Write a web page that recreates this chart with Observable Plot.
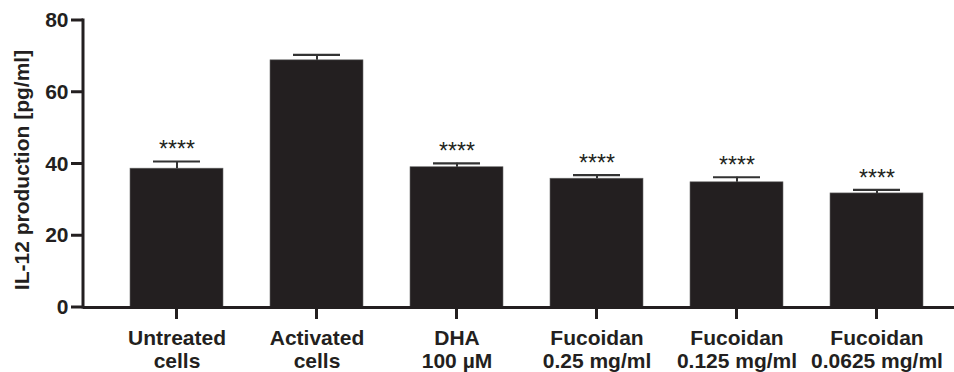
<!DOCTYPE html>
<html>
<head>
<meta charset="utf-8">
<script src="https://cdn.jsdelivr.net/npm/d3@7"></script>
<script src="https://cdn.jsdelivr.net/npm/@observablehq/plot@0.6"></script>
<style>
  html, body { margin: 0; padding: 0; background: #fff; }
  #chart svg { display: block; }
</style>
</head>
<body>
<div id="chart"></div>
<script>
const categories = ["Untreated\ncells", "Activated\ncells", "DHA\n100 µM", "Fucoidan\n0.25 mg/ml", "Fucoidan\n0.125 mg/ml", "Fucoidan\n0.0625 mg/ml"];
const means = [38.7, 68.9, 39.1, 35.9, 34.9, 31.8];
const errors = [2.0, 1.5, 1.1, 1.0, 1.4, 1.0];
const stars = ["****", "", "****", "****", "****", "****"];
const yTicks = [0, 20, 40, 60, 80];
const yLabel = "IL-12 production [pg/ml]";

const data = categories.map((c, i) => ({c, m: means[i], e: errors[i], s: stars[i]}));
const ink = "#231f20";
const font = "Liberation Sans, Arial, Helvetica, sans-serif";

const chart = Plot.plot({
  width: 954,
  height: 372,
  marginLeft: 83,
  marginRight: 0,
  marginTop: 20,
  marginBottom: 65,
  style: {fontFamily: font, color: ink, background: "#fff", overflow: "visible"},
  x: {domain: categories, range: [130, 923], paddingInner: 0.336, paddingOuter: 0, label: null},
  y: {domain: [0, 80], label: null},
  marks: [
    Plot.barY(data, {x: "c", y: "m", fill: ink, stroke: "#6b6b6b", strokeWidth: 0.6}),
    Plot.ruleX(data, {x: "c", y1: "m", y2: d => d.m + d.e, stroke: "#333", strokeWidth: 2}),
    Plot.tickY(data, {x: "c", y: d => d.m + d.e, stroke: "#333", strokeWidth: 2.2, insetLeft: 23, insetRight: 23}),
    Plot.text(data, {x: "c", y: d => d.m + d.e, text: "s", fontSize: 23, fill: ink, lineAnchor: "bottom", dy: -4}),
    Plot.ruleY([0], {stroke: ink, strokeWidth: 3}),
    Plot.axisY({ticks: yTicks, tickFormat: d => d, tickSize: 0, tickPadding: 15, fill: ink, fontSize: 21, fontWeight: "bold", label: null}),
    Plot.axisX({tickSize: 0, tickPadding: 21, fill: ink, fontSize: 21, fontWeight: "bold", lineHeight: 1.1, label: null}),
    Plot.text([yLabel], {text: d => d, frameAnchor: "left", rotate: -90, dx: -69, dy: 6, lineAnchor: "top", textAnchor: "middle", fontSize: 21, fontWeight: "bold", fill: ink})
  ]
});

const svg = d3.select(chart);
const ys = chart.scale("y");
const xs = chart.scale("x");
const xLeft = 83;
const y0 = ys.apply(0);

// left axis line
svg.append("line")
  .attr("x1", xLeft).attr("x2", xLeft)
  .attr("y1", ys.apply(80) - 1.5).attr("y2", y0 + 1.5)
  .attr("stroke", ink).attr("stroke-width", 3);

// y ticks
svg.append("g").attr("stroke", ink).attr("stroke-width", 3)
  .selectAll("line").data(yTicks).join("line")
  .attr("x1", xLeft - 12).attr("x2", xLeft)
  .attr("y1", d => ys.apply(d)).attr("y2", d => ys.apply(d));

// x ticks
svg.append("g").attr("stroke", ink).attr("stroke-width", 3)
  .selectAll("line").data(categories).join("line")
  .attr("x1", d => xs.apply(d) + xs.bandwidth / 2).attr("x2", d => xs.apply(d) + xs.bandwidth / 2)
  .attr("y1", y0).attr("y2", y0 + 12);

document.getElementById("chart").appendChild(chart);
</script>
</body>
</html>
